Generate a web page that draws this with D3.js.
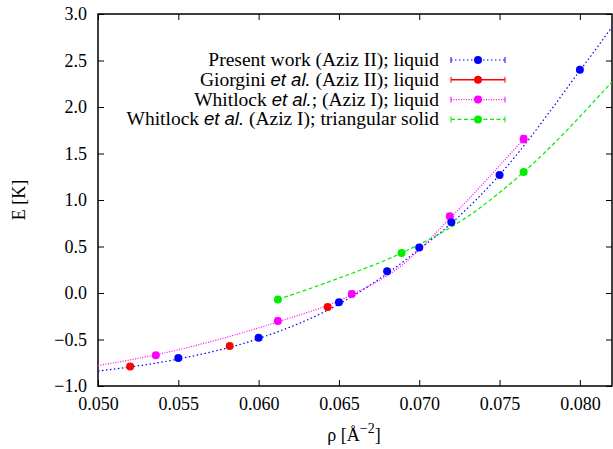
<!DOCTYPE html>
<html>
<head>
<meta charset="utf-8">
<script src="https://cdn.jsdelivr.net/npm/d3@7"></script>
<style>
  body { margin: 0; background: #fff; }
  svg text { font-family: "Liberation Serif", "Times New Roman", serif; }
</style>
</head>
<body>
<div id="chart"></div>
<script>
// Present work (Aziz II); liquid
const presentRho = [0.055, 0.060, 0.065, 0.068, 0.070, 0.072, 0.075, 0.080];
const presentE   = [-0.70, -0.48, -0.10, 0.235, 0.49, 0.76, 1.27, 2.40];
// fitted curve
const presentFitRho = [0.050, 0.055, 0.060, 0.065, 0.068, 0.070, 0.072, 0.075, 0.080, 0.082];
const presentFitE   = [-0.84, -0.71, -0.49, -0.12, 0.21, 0.47, 0.75, 1.27, 2.39, 2.86];

// Giorgini et al. (Aziz II); liquid
const giorginiRho = [0.052, 0.0582, 0.0643];
const giorginiE   = [-0.79, -0.57, -0.15];

// Whitlock et al.; (Aziz I); liquid
const whitLiqRho = [0.0536, 0.0612, 0.0658, 0.0719, 0.0765];
const whitLiqE   = [-0.67, -0.30, -0.01, 0.825, 1.655];
const whitLiqErr = [0.02, 0.03, 0.03, 0.03, 0.04];
const whitLiqFitRho = [0.050, 0.0536, 0.0575, 0.0612, 0.0658, 0.0690, 0.0719, 0.0765];
const whitLiqFitE   = [-0.78, -0.665, -0.50, -0.31, -0.02, 0.31, 0.80, 1.655];

// Whitlock et al. (Aziz I); triangular solid
const whitSolRho = [0.0612, 0.0689, 0.0765];
const whitSolE   = [-0.07, 0.43, 1.30];
const whitSolFitRho = [0.0612, 0.0650, 0.0689, 0.0730, 0.0765, 0.082];
const whitSolFitE   = [-0.07, 0.16, 0.43, 0.82, 1.30, 2.27];

const xTicks = [0.050, 0.055, 0.060, 0.065, 0.070, 0.075, 0.080];
const yTicks = [-1.0, -0.5, 0.0, 0.5, 1.0, 1.5, 2.0, 2.5, 3.0];

const W = 613, H = 449;
const margin = { top: 14, right: 1, bottom: 63, left: 98 };
const width = W - margin.left - margin.right,
      height = H - margin.top - margin.bottom;
const serif = "'Liberation Serif', 'Times New Roman', serif";

const svg = d3.select("#chart").append("svg")
    .attr("width", W)
    .attr("height", H);

const g = svg.append("g")
    .attr("transform", "translate(" + margin.left + "," + margin.top + ")");

const x = d3.scaleLinear().domain([0.050, 0.082]).range([0, width]);
const y = d3.scaleLinear().domain([-1.0, 3.0]).range([height, 0]);

svg.append("defs").append("clipPath").attr("id", "clip")
    .append("rect").attr("width", width).attr("height", height);

// ticks (inward, mirrored)
const tickLen = 6;
const axisB = d3.axisBottom(x).tickValues(xTicks).tickFormat(d3.format(".3f")).tickSizeInner(-tickLen).tickSizeOuter(0).tickPadding(11);
const axisL = d3.axisLeft(y).tickValues(yTicks).tickFormat(d => d3.format(".1f")(d).replace("-", "\u2212")).tickSizeInner(-tickLen).tickSizeOuter(0).tickPadding(11);
const axisT = d3.axisTop(x).tickValues(xTicks).tickFormat("").tickSizeInner(-tickLen).tickSizeOuter(0);
const axisR = d3.axisRight(y).tickValues(yTicks).tickFormat("").tickSizeInner(-tickLen).tickSizeOuter(0);

g.append("g").attr("transform", "translate(0," + height + ")").call(axisB);
g.append("g").call(axisL);
g.append("g").call(axisT);
g.append("g").attr("transform", "translate(" + width + ",0)").call(axisR);

g.selectAll(".domain").remove();
g.selectAll(".tick line").attr("stroke", "#000").attr("stroke-width", 1);
g.selectAll(".tick text").attr("font-size", 18).attr("fill", "#000")
    .style("font-family", serif);

// frame
g.append("rect")
    .attr("width", width).attr("height", height)
    .attr("fill", "none").attr("stroke", "#000").attr("stroke-width", 1.5);

// axis labels
svg.append("text")
    .attr("transform", "translate(" + 25 + "," + (margin.top + height / 2) + ") rotate(-90)")
    .attr("text-anchor", "middle")
    .attr("font-size", 18)
    .style("font-family", serif)
    .text("E [K]");

const xl = svg.append("text")
    .attr("x", 354)
    .attr("y", 441)
    .attr("text-anchor", "middle")
    .attr("font-size", 18)
    .style("font-family", serif);
xl.append("tspan").text("\u03C1 [\u00C5");
xl.append("tspan").attr("dy", -8).attr("font-size", 14).text("\u22122");
xl.append("tspan").attr("dy", 8).text("]");

const plot = g.append("g").attr("clip-path", "url(#clip)");

const line = d3.line().x(d => x(d[0])).y(d => y(d[1])).curve(d3.curveMonotoneX);
const zip = (a, b) => a.map((v, i) => [v, b[i]]);

const series = [
  { name: "present", color: "#0000ff", dash: "1.5,2.5", width: 1.2,
    fit: zip(presentFitRho, presentFitE), pts: zip(presentRho, presentE), err: null },
  { name: "whitliq", color: "#ff00ff", dash: "1,1.5", width: 1.2,
    fit: zip(whitLiqFitRho, whitLiqFitE), pts: zip(whitLiqRho, whitLiqE), err: whitLiqErr },
  { name: "whitsol", color: "#00ee00", dash: "4,2.5", width: 1.2,
    fit: zip(whitSolFitRho, whitSolFitE), pts: zip(whitSolRho, whitSolE), err: null },
  { name: "giorgini", color: "#ff0000", dash: null, width: 1.2,
    fit: null, pts: zip(giorginiRho, giorginiE), err: null }
];

series.forEach(s => {
  if (s.fit) {
    plot.append("path")
        .datum(s.fit)
        .attr("d", line)
        .attr("fill", "none")
        .attr("stroke", s.color)
        .attr("stroke-width", s.width)
        .attr("stroke-dasharray", s.dash);
  }
});

// draw points in order: whitlock liquid, solid, giorgini, present
[series[1], series[2], series[3], series[0]].forEach(s => {
  if (s.err) {
    s.pts.forEach((p, i) => {
      const e = s.err[i];
      const cx = x(p[0]);
      plot.append("line").attr("x1", cx).attr("x2", cx)
          .attr("y1", y(p[1] - e)).attr("y2", y(p[1] + e))
          .attr("stroke", s.color).attr("stroke-width", 1);
      [p[1] - e, p[1] + e].forEach(v => {
        plot.append("line").attr("x1", cx - 3).attr("x2", cx + 3)
            .attr("y1", y(v)).attr("y2", y(v))
            .attr("stroke", s.color).attr("stroke-width", 1);
      });
    });
  }
  plot.selectAll(".pt-" + s.name)
      .data(s.pts)
      .enter().append("circle")
      .attr("cx", d => x(d[0]))
      .attr("cy", d => y(d[1]))
      .attr("r", 4)
      .attr("fill", s.color);
});

// legend
const legendItems = [
  { s: series[0], parts: [["Present work (Aziz II); liquid", false]] },
  { s: series[3], parts: [["Giorgini ", false], ["et al.", true], [" (Aziz II); liquid", false]] },
  { s: series[1], parts: [["Whitlock ", false], ["et al.", true], ["; (Aziz I); liquid", false]] },
  { s: series[2], parts: [["Whitlock ", false], ["et al.", true], [" (Aziz I); triangular solid", false]] }
];

const legend = svg.append("g");
legendItems.forEach((item, i) => {
  const yy = 60 + i * 19.8;
  const t = legend.append("text")
      .attr("x", 439).attr("y", yy + 6)
      .attr("text-anchor", "end")
      .attr("font-size", 19.5)
      .style("font-family", serif);
  item.parts.forEach(p => {
    const ts = t.append("tspan").text(p[0]);
    if (p[1]) ts.style("font-family", "'Liberation Sans', Arial, sans-serif").style("font-style", "italic").attr("font-size", 18.5);
  });
  const s = item.s;
  const x1 = 451, x2 = 505;
  legend.append("line").attr("x1", x1).attr("x2", x2).attr("y1", yy).attr("y2", yy)
      .attr("stroke", s.color).attr("stroke-width", s.dash ? 1.2 : 1.5)
      .attr("stroke-dasharray", s.dash);
  [x1, x2].forEach(xx => {
    legend.append("line").attr("x1", xx).attr("x2", xx).attr("y1", yy - 3).attr("y2", yy + 3)
        .attr("stroke", s.color).attr("stroke-width", 1);
  });
  legend.append("circle").attr("cx", 478).attr("cy", yy).attr("r", 4).attr("fill", s.color);
});
</script>
</body>
</html>
